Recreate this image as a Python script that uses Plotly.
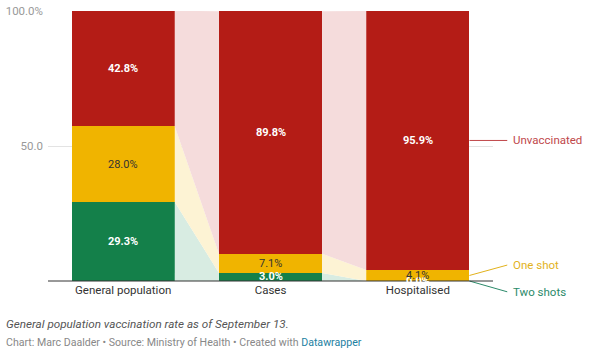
import plotly.graph_objects as go

categories = ["General population", "Cases", "Hospitalised"]
two_shots = [29.3, 3.0, 0.0]
one_shot = [28.0, 7.1, 4.1]
unvaccinated = [42.8, 89.8, 95.9]
series_names = ["Two shots", "One shot", "Unvaccinated"]
y_tick_vals = [50, 100]
y_tick_text = ["50.0", "100.0%"]
footnote = "General population vaccination rate as of September 13."
credit = "Chart: Marc Daalder • Source: Ministry of Health • Created with "

series = [two_shots, one_shot, unvaccinated]
colors = ["#14804a", "#f0b400", "#b41c16"]
pale = ["#d8ece2", "#fdf3d4", "#f5dcdc"]
text_colors = ["white", "#333333", "white"]
label_colors = ["#2b8a6a", "#e2b21c", "#c0474a"]
bw = 0.7
xs = list(range(len(categories)))
FONT = "Roboto"
YMAX = 100.0

# cumulative bounds
lows, highs = [], []
base = [0.0] * len(categories)
for s in series:
    lows.append(base[:])
    highs.append([b + v for b, v in zip(base, s)])
    base = highs[-1]

fig = go.Figure()

# connecting bands
for k in range(len(series)):
    for i in range(len(categories) - 1):
        x0 = i + bw / 2
        x1 = i + 1 - bw / 2
        fig.add_trace(go.Scatter(
            x=[x0, x0, x1, x1, x0],
            y=[lows[k][i], highs[k][i], highs[k][i + 1], lows[k][i + 1], lows[k][i]],
            fill="toself", fillcolor=pale[k], mode="lines",
            line=dict(width=0), hoverinfo="skip", showlegend=False))

for k, s in enumerate(series):
    fig.add_trace(go.Bar(x=xs, y=s, width=bw, marker=dict(color=colors[k], line=dict(width=0)),
                         name=series_names[k], showlegend=False, hoverinfo="skip"))

annotations = []
for k, s in enumerate(series):
    for i, v in enumerate(s):
        mid = (lows[k][i] + highs[k][i]) / 2
        bold = text_colors[k] == "white"
        txt = f"<b>{v:.1f}%</b>" if bold else f"{v:.1f}%"
        annotations.append(dict(x=i, y=mid, xref="x", yref="y", text=txt, showarrow=False,
                                font=dict(family=FONT, size=11, color=text_colors[k])))

xmin, xmax = -0.51, 2.51
last = len(categories) - 1
edge = (last + bw / 2 - xmin) / (xmax - xmin)
label_x = edge + 0.093
label_offsets = [-4.0, 5.9, None]
shapes = []
for k in range(len(series)):
    mid = (lows[k][last] + highs[k][last]) / 2
    ly = mid if label_offsets[k] is None else label_offsets[k]
    shapes.append(dict(type="line", xref="paper", yref="paper", x0=edge, x1=label_x - 0.008,
                       y0=mid / YMAX, y1=ly / YMAX, line=dict(color=label_colors[k], width=1)))
    annotations.append(dict(x=label_x, y=ly / YMAX, xref="paper", yref="paper", text=series_names[k],
                            showarrow=False, xanchor="left", yanchor="middle",
                            font=dict(family=FONT, size=11.5, color=label_colors[k])))

shapes.append(dict(type="line", xref="paper", yref="paper", x0=0, x1=1, y0=0, y1=0,
                   line=dict(color="#333333", width=1)))

annotations.append(dict(x=-0.099, y=-0.159, xref="paper", yref="paper", text=f"<i>{footnote}</i>",
                        showarrow=False, xanchor="left", yanchor="middle",
                        font=dict(family=FONT, size=11.7, color="#555555")))
annotations.append(dict(x=-0.099, y=-0.226, xref="paper", yref="paper",
                        text=credit + "<span style='color:#1d81a2'>Datawrapper</span>",
                        showarrow=False, xanchor="left", yanchor="middle",
                        font=dict(family=FONT, size=10.6, color="#888888")))

fig.update_layout(
    width=600, height=355, barmode="stack",
    margin=dict(l=48, r=107, t=11, b=74),
    paper_bgcolor="white", plot_bgcolor="white",
    font=dict(family=FONT),
    xaxis=dict(range=[xmin, xmax], tickvals=xs, ticktext=categories, showgrid=False,
               zeroline=False, tickfont=dict(size=11.5, color="#333333"), fixedrange=True,
               automargin=False),
    yaxis=dict(range=[0, YMAX], tickvals=y_tick_vals, ticktext=y_tick_text, showgrid=True,
               gridcolor="#e3e3e3", zeroline=False, tickfont=dict(size=11.5, color="#999999"),
               ticklabelstandoff=4, automargin=False, fixedrange=True),
    shapes=shapes, annotations=annotations, showlegend=False,
)

fig.write_html("out.html", config={"displayModeBar": False},
               post_script="document.body.style.margin='0';document.body.style.overflow='hidden';")
